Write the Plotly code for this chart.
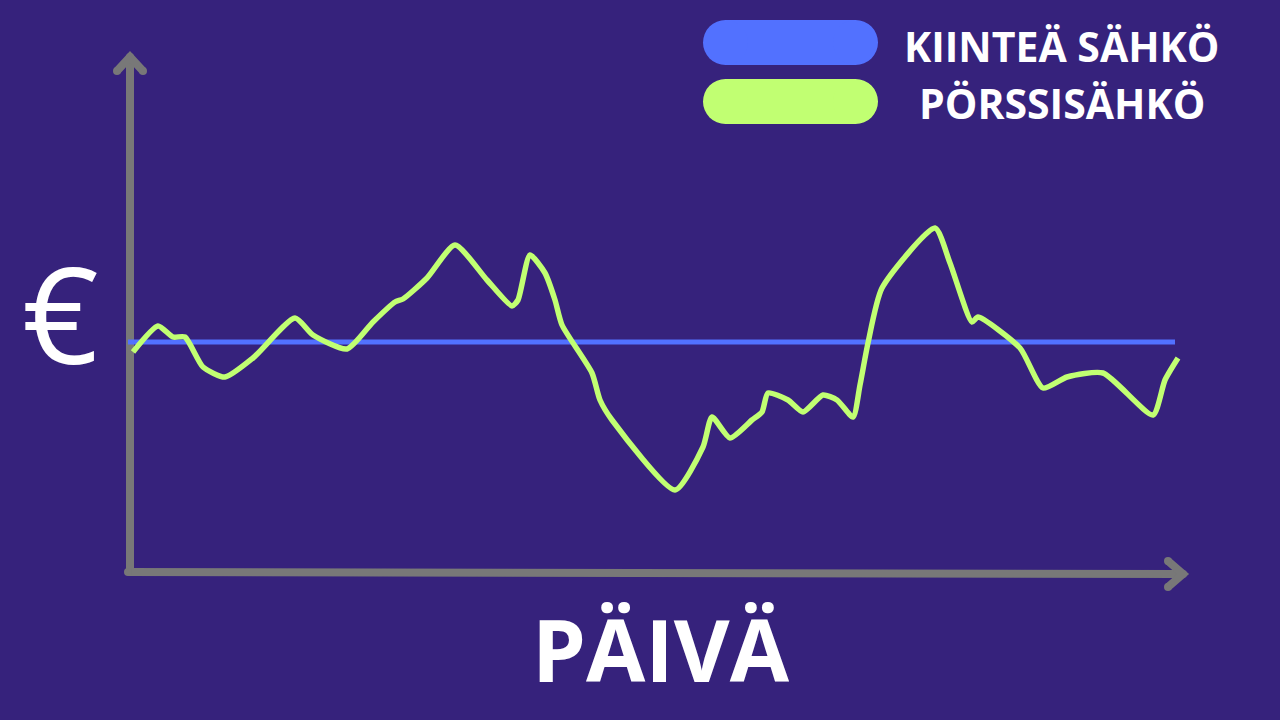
import plotly.graph_objects as go

# Datos (paivat / hinta snt/kWh, luettu kuvasta)
paivat = [0.3, 2.8, 4.3, 5.5, 7.3, 9.5, 12.3, 16.5, 18.3, 21.7, 24.3, 26.5, 27.3, 29.7,
          32.5, 35.7, 38.2, 38.8, 40.0, 41.5, 42.5, 43.2, 46.2, 47.0, 48.2, 54.5, 57.3,
          58.2, 60.0, 62.2, 63.2, 63.8, 65.8, 67.3, 69.3, 70.7, 72.3, 73.0, 73.8, 75.2,
          80.5, 82.0, 84.2, 84.8, 89.0, 91.3, 93.7, 97.3, 102.3, 103.5, 104.8]
porssisahko = [10.9, 12.2, 11.65, 11.65, 10.15, 9.65, 10.6, 12.6, 11.75, 11.05, 12.4, 13.4,
               13.55, 14.6, 16.25, 14.5, 13.2, 13.5, 15.75, 14.85, 13.5, 12.25, 9.85, 8.5,
               7.5, 4.0, 6.15, 7.65, 6.6, 7.5, 7.9, 8.85, 8.5, 7.9, 8.75, 8.5, 7.65, 9.25,
               11.35, 14.1, 17.1, 15.35, 12.4, 12.65, 11.1, 9.1, 9.65, 9.85, 7.75, 9.5, 10.6]
kiintea_paivat = [-0.2, 104.5]
kiintea_sahko = [11.4, 11.4]

legend_labels = ["KIINTEÄ SÄHKÖ", "PÖRSSISÄHKÖ"]
x_title = "PÄIVÄ"
y_title = "€"

BG = "#36227C"
GRAY = "#787878"
BLUE = "#5271FF"
GREEN = "#C1FF72"

W, H = 1280, 720


def px(x):
    return x / W


def py(y):
    return 1 - y / H


fig = go.Figure()

fig.add_trace(go.Scatter(x=kiintea_paivat, y=kiintea_sahko, mode="lines",
                         line=dict(color=BLUE, width=5), hoverinfo="skip"))
fig.add_trace(go.Scatter(x=paivat, y=porssisahko, mode="lines",
                         line=dict(color=GREEN, width=5.5, shape="spline", smoothing=0.6),
                         hoverinfo="skip"))

shapes = []
# akselit nuolineen
axis_lines = [
    [(130, 572), (130, 57)],
    [(117, 71), (130, 57), (143, 71)],
    [(128, 572), (1183, 574)],
    [(1168, 561), (1183, 574), (1168, 587)],
]
for pts in axis_lines:
    path = "M " + " L ".join(f"{px(a)},{py(b)}" for a, b in pts)
    shapes.append(dict(type="path", xref="paper", yref="paper", path=path,
                       line=dict(color=GRAY, width=8), layer="below"))
    for a, b in (pts[0], pts[-1]):
        shapes.append(dict(type="circle", xref="paper", yref="paper",
                           x0=px(a - 4), x1=px(a + 4), y0=py(b + 4), y1=py(b - 4),
                           fillcolor=GRAY, line_width=0, layer="below"))

# selitteen pillerit
for (top, col) in [(20, BLUE), (79, GREEN)]:
    left, right, h = 703, 878, 45
    r = h / 2
    shapes.append(dict(type="rect", xref="paper", yref="paper",
                       x0=px(left + r), x1=px(right - r), y0=py(top + h), y1=py(top),
                       fillcolor=col, line_width=0))
    for cx in (left + r, right - r):
        shapes.append(dict(type="circle", xref="paper", yref="paper",
                           x0=px(cx - r), x1=px(cx + r), y0=py(top + h), y1=py(top),
                           fillcolor=col, line_width=0))

annotations = [
    dict(text=legend_labels[0], x=px(1061), y=py(46), xref="paper", yref="paper",
         showarrow=False, xanchor="center", yanchor="middle",
         font=dict(family="Open Sans", size=41, color="white", weight="bold")),
    dict(text=legend_labels[1], x=px(1062), y=py(103), xref="paper", yref="paper",
         showarrow=False, xanchor="center", yanchor="middle",
         font=dict(family="Open Sans", size=41, color="white", weight="bold")),
    dict(text=x_title, x=px(661), y=py(648), xref="paper", yref="paper",
         showarrow=False, xanchor="center", yanchor="middle",
         font=dict(family="Open Sans", size=86, color="white", weight="bold")),
    dict(text=y_title, x=px(60), y=py(312), xref="paper", yref="paper",
         showarrow=False, xanchor="center", yanchor="middle",
         font=dict(family="Open Sans", size=134, color="white")),
]

fig.update_layout(
    width=W, height=H,
    margin=dict(l=0, r=0, t=0, b=0),
    paper_bgcolor=BG, plot_bgcolor=BG,
    showlegend=False,
    xaxis=dict(range=[-13, 115], visible=False, fixedrange=True),
    yaxis=dict(range=[-7.5, 28.5], visible=False, fixedrange=True),
    shapes=shapes,
    annotations=annotations,
)

fig.write_html("out.html", config={"displayModeBar": False},
               post_script="document.body.style.margin='0';")
